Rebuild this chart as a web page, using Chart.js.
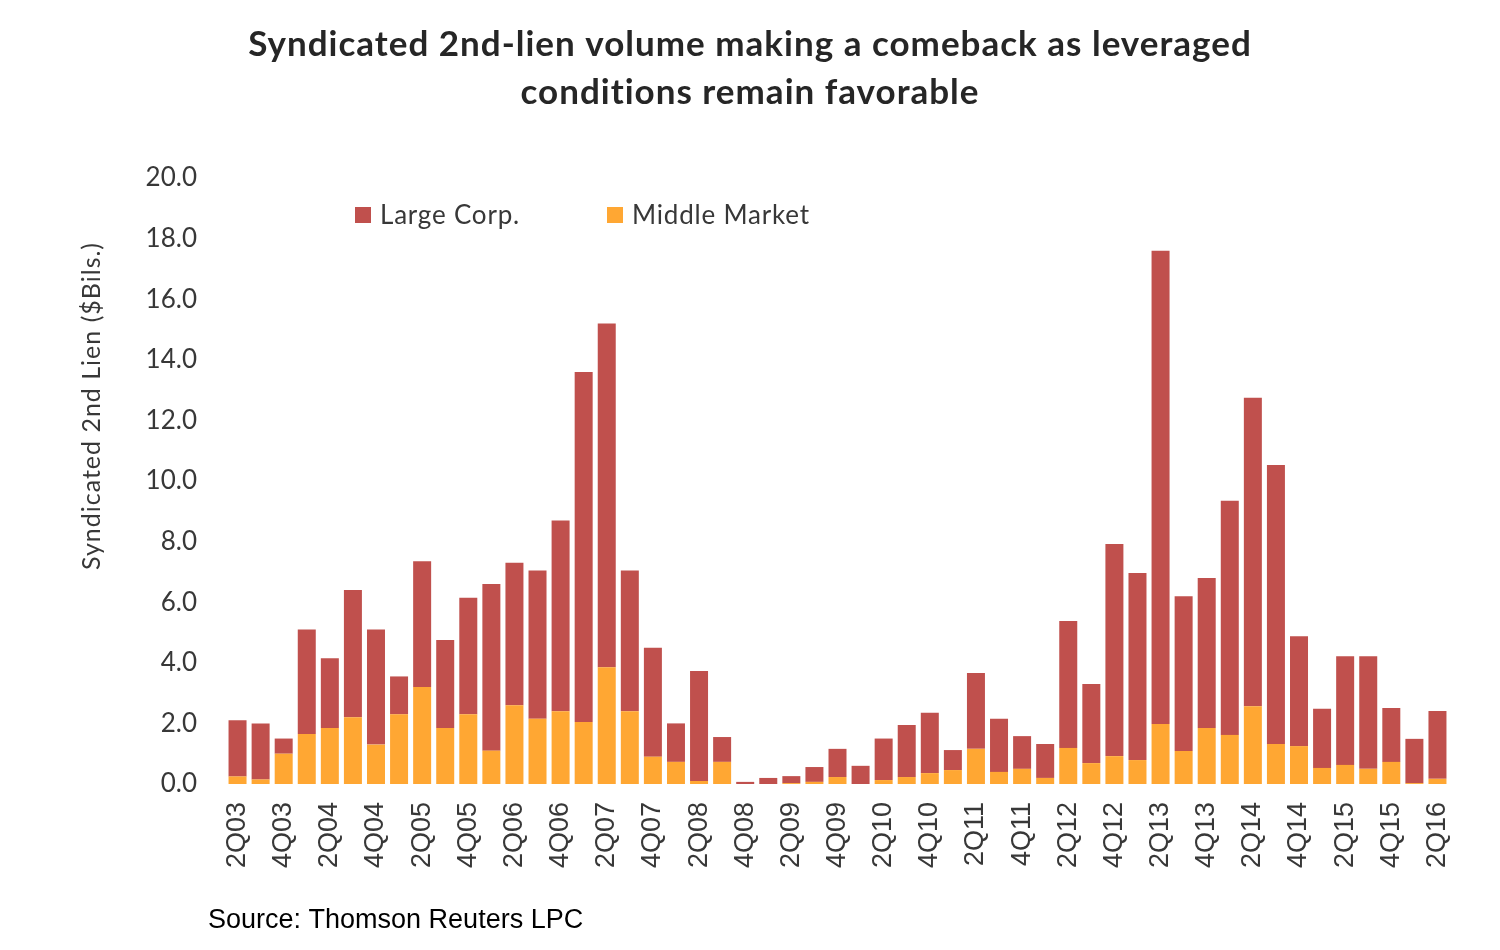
<!DOCTYPE html>
<html>
<head>
<meta charset="utf-8">
<script src="https://cdn.jsdelivr.net/npm/chart.js@4.4.1/dist/chart.umd.min.js"></script>
<style>
	html, body { margin: 0; padding: 0; background: #fff; }
	#wrap { width: 1500px; height: 950px; }
</style>
</head>
<body>
<div id="wrap"><canvas id="chartjs-canvas" width="1500" height="950"></canvas></div>
<script>
const quarters = [
	'2Q03','3Q03','4Q03','1Q04','2Q04','3Q04','4Q04','1Q05','2Q05','3Q05','4Q05',
	'1Q06','2Q06','3Q06','4Q06','1Q07','2Q07','3Q07','4Q07','1Q08','2Q08','3Q08','4Q08',
	'1Q09','2Q09','3Q09','4Q09','1Q10','2Q10','3Q10','4Q10','1Q11','2Q11','3Q11','4Q11',
	'1Q12','2Q12','3Q12','4Q12','1Q13','2Q13','3Q13','4Q13','1Q14','2Q14','3Q14','4Q14',
	'1Q15','2Q15','3Q15','4Q15','1Q16','2Q16'
];

// total syndicated 2nd-lien volume per quarter ($Bils.)
const totalVolume = [
	2.1, 2.0, 1.5, 5.1, 4.15, 6.4, 5.1, 3.55, 7.35, 4.75, 6.15,
	6.6, 7.3, 7.05, 8.7, 13.6, 15.2, 7.05, 4.5, 2.0, 3.73, 1.55, 0.07,
	0.2, 0.26, 0.56, 1.16, 0.6, 1.5, 1.95, 2.35, 1.12, 3.66, 2.15, 1.58,
	1.32, 5.38, 3.3, 7.92, 6.96, 17.6, 6.2, 6.8, 9.35, 12.75, 10.53, 4.88,
	2.48, 4.22, 4.22, 2.51, 1.49, 2.41
];

const middleMarket = [
	0.25, 0.15, 1.0, 1.65, 1.85, 2.2, 1.3, 2.3, 3.2, 1.85, 2.3,
	1.1, 2.6, 2.15, 2.4, 2.05, 3.85, 2.4, 0.9, 0.73, 0.1, 0.73, 0,
	0, 0.03, 0.07, 0.23, 0, 0.13, 0.23, 0.36, 0.46, 1.16, 0.4, 0.5,
	0.2, 1.19, 0.69, 0.92, 0.79, 1.98, 1.09, 1.85, 1.62, 2.57, 1.32, 1.25,
	0.53, 0.63, 0.5, 0.73, 0.03, 0.17
];

const largeCorp = totalVolume.map((t, i) => +(t - middleMarket[i]).toFixed(2));

const yTicks = [0, 2, 4, 6, 8, 10, 12, 14, 16, 18, 20];

const titleLines = ['Syndicated 2nd-lien volume making a comeback as leveraged', 'conditions remain favorable'];

const RED = '#C0504D';
const ORANGE = '#FFA733';
const TEXT = '#383838';
const LATO = 'Lato, "Open Sans", sans-serif';
const ARIAL = '"Liberation Sans", Arial, sans-serif';

// title, legend, y title and source line are drawn by hand to sit where the original has them
const extras = {
	id: 'extras',
	afterDraw: chart => {
		const ctx = chart.ctx;
		const area = chart.chartArea;

		ctx.save();
		ctx.fillStyle = '#262626';
		ctx.font = `bold 35px ${LATO}`;
		ctx.letterSpacing = '1px';
		ctx.textAlign = 'center';
		ctx.textBaseline = 'middle';
		titleLines.forEach((line, i) => ctx.fillText(line, 750, 45 + i * 48));
		ctx.restore();

		// legend inside the plot
		ctx.save();
		const items = [
			{ label: 'Large Corp.', color: RED, x: area.left + 129 },
			{ label: 'Middle Market', color: ORANGE, x: area.left + 381 }
		];
		ctx.font = `26px ${LATO}`;
		ctx.letterSpacing = '0.8px';
		ctx.textBaseline = 'middle';
		ctx.textAlign = 'left';
		items.forEach(item => {
			ctx.fillStyle = item.color;
			ctx.fillRect(item.x, 207, 16, 16);
			ctx.fillStyle = TEXT;
			ctx.fillText(item.label, item.x + 25, 216);
		});

		// y axis title
		ctx.translate(92, 406);
		ctx.rotate(-Math.PI / 2);
		ctx.textAlign = 'center';
		ctx.font = `25px ${LATO}`;
		ctx.letterSpacing = '1px';
		ctx.fillText('Syndicated 2nd Lien ($Bils.)', 0, 0);
		ctx.restore();

		ctx.save();
		ctx.font = `27px ${ARIAL}`;
		ctx.fillStyle = '#000';
		ctx.textAlign = 'left';
		ctx.textBaseline = 'alphabetic';
		ctx.fillText('Source: Thomson Reuters LPC', 208, 928);
		ctx.restore();
	}
};

const data = {
	labels: quarters,
	datasets: [
		{
			label: 'Middle Market',
			data: middleMarket,
			backgroundColor: ORANGE,
			barPercentage: 0.78,
			categoryPercentage: 1.0
		},
		{
			label: 'Large Corp.',
			data: largeCorp,
			backgroundColor: RED,
			barPercentage: 0.78,
			categoryPercentage: 1.0
		}
	]
};

const config = {
	type: 'bar',
	data,
	plugins: [extras],
	options: {
		responsive: false,
		animation: false,
		layout: {
			padding: { left: 145, right: 51, top: 178, bottom: 74 }
		},
		plugins: {
			legend: { display: false },
			tooltip: { enabled: false },
			title: { display: false }
		},
		scales: {
			x: {
				stacked: true,
				grid: { display: false, drawTicks: false },
				border: { display: false },
				afterFit: axis => { axis.height = 92; },
				ticks: {
					autoSkip: false,
					maxRotation: 90,
					minRotation: 90,
					padding: 18,
					color: TEXT,
					font: { family: ARIAL, size: 27 },
					callback: (value, index) => index % 2 === 0 ? quarters[index] : ''
				}
			},
			y: {
				stacked: true,
				min: 0,
				max: 20,
				grid: { display: false, drawTicks: false },
				border: { display: false },
				afterFit: axis => { axis.width = 81; },
				afterBuildTicks: axis => { axis.ticks = yTicks.map(v => ({ value: v })); },
				ticks: {
					padding: 29,
					color: TEXT,
					font: { family: LATO, size: 26 },
					callback: value => value.toFixed(1)
				}
			}
		}
	}
};

new Chart(document.getElementById('chartjs-canvas'), config);
</script>
</body>
</html>
